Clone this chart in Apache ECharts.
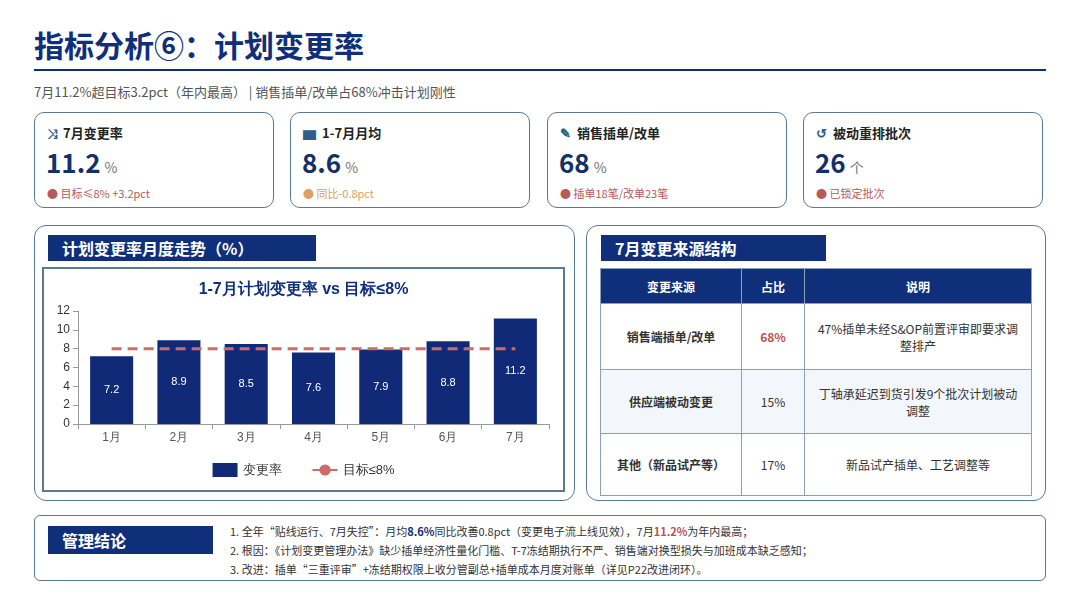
<!doctype html>
<html>
<head>
<meta charset="utf-8">
<title>计划变更率</title>
<script src="https://cdn.jsdelivr.net/npm/echarts@6/dist/echarts.min.js"></script>
<style>
body{margin:0;width:1080px;height:608px;background:#fff;font-family:"Noto Sans CJK SC","Noto Sans",sans-serif;position:relative;overflow:hidden;color:#333}
.abs{position:absolute}
.card{position:absolute;top:112px;height:96px;width:240px;border:1.5px solid #5a7a94;border-radius:10px;box-sizing:border-box}
.card .t{position:absolute;left:12px;top:10px;font-size:13px;font-weight:bold;color:#222}
.card .t i{font-style:normal;color:#2c5f8a;margin-right:6px}
.card .v{position:absolute;left:11px;top:30px;font-size:26px;font-weight:bold;color:#12306a}
.card .v span{font-size:14px;font-weight:normal;color:#777;margin-left:4px}
.card .n{position:absolute;left:12px;top:72px;font-size:11px;color:#b75a5a}
.panel{position:absolute;border:1.5px solid #5a7a94;border-radius:12px;box-sizing:border-box}
.ptitle{position:absolute;background:#102f7a;color:#fff;font-weight:bold;font-size:16px;line-height:26px;padding-left:14px;box-sizing:border-box}
table{border-collapse:collapse;font-size:12px;text-align:center}
td,th{border:1px solid #8aa0b8}
th{background:#102f7a;color:#fff;height:32px}
</style>
</head>
<body>
<div class="abs" style="left:34px;top:22px;font-size:30px;font-weight:bold;color:#102f7a">指标分析⑥：计划变更率</div>
<div class="abs" style="left:34px;top:69px;width:1012px;height:2px;background:#102f7a"></div>
<div class="abs" style="left:34px;top:82px;font-size:13px;color:#555">7月11.2%超目标3.2pct（年内最高） | 销售插单/改单占68%冲击计划刚性</div>

<div class="card" style="left:34px"><div class="t"><i>⤨</i>7月变更率</div><div class="v">11.2<span>%</span></div><div class="n">● 目标≤8% +3.2pct</div></div>
<div class="card" style="left:290px"><div class="t"><i>▆</i>1-7月月均</div><div class="v">8.6<span>%</span></div><div class="n" style="color:#e0a060">● 同比-0.8pct</div></div>
<div class="card" style="left:547px"><div class="t"><i>✎</i>销售插单/改单</div><div class="v">68<span>%</span></div><div class="n">● 插单18笔/改单23笔</div></div>
<div class="card" style="left:803px"><div class="t"><i>↺</i>被动重排批次</div><div class="v">26<span>个</span></div><div class="n">● 已锁定批次</div></div>

<div class="panel" style="left:34px;top:225px;width:541px;height:276px"></div>
<div class="ptitle" style="left:48px;top:235px;width:268px">计划变更率月度走势（%）</div>
<div class="abs" style="left:42px;top:267px;width:523px;height:225px;border:2px solid #5a7a94;box-sizing:border-box"></div>
<div id="tb" class="abs" style="left:44px;top:269px;width:519px;height:221px"></div>

<div class="panel" style="left:586px;top:225px;width:460px;height:276px"></div>
<div class="ptitle" style="left:601px;top:235px;width:225px">7月变更来源结构</div>
<table class="abs" style="left:600px;top:268px;width:432px">
<tr><th style="width:138px">变更来源</th><th style="width:60px">占比</th><th>说明</th></tr>
<tr style="height:66px"><td style="font-weight:bold">销售端插单/改单</td><td style="color:#c0504d;font-weight:bold">68%</td><td style="padding:0 10px">47%插单未经S&amp;OP前置评审即要求调整排产</td></tr>
<tr style="height:64px;background:#f3f6fa"><td style="font-weight:bold">供应端被动变更</td><td>15%</td><td style="padding:0 10px">丁轴承延迟到货引发9个批次计划被动调整</td></tr>
<tr style="height:62px"><td style="font-weight:bold">其他（新品试产等）</td><td>17%</td><td>新品试产插单、工艺调整等</td></tr>
</table>

<div class="panel" style="left:34px;top:515px;width:1012px;height:66px;border-radius:6px"></div>
<div class="ptitle" style="left:48px;top:526px;width:165px;font-size:16px;line-height:28px">管理结论</div>
<div class="abs" style="left:230px;top:522px;font-size:11px;line-height:19px;color:#333">
1. 全年“贴线运行、7月失控”：月均<b style="color:#102f7a">8.6%</b>同比改善0.8pct（变更电子流上线见效），7月<b style="color:#c0504d">11.2%</b>为年内最高；<br>
2. 根因：《计划变更管理办法》缺少插单经济性量化门槛、T-7冻结期执行不严、销售端对换型损失与加班成本缺乏感知；<br>
3. 改进：插单“三重评审”+冻结期权限上收分管副总+插单成本月度对账单（详见P22改进闭环）。</div>

<script>
var months = ['1月', '2月', '3月', '4月', '5月', '6月', '7月'];
var rates = [7.2, 8.9, 8.5, 7.6, 7.9, 8.8, 11.2];
var targets = [8, 8, 8, 8, 8, 8, 8];
var chart = echarts.init(document.getElementById('tb'));
chart.setOption({
    animation: false,
    title: {text: '1-7月计划变更率 vs 目标≤8%', left: 'center', top: 8,
        textStyle: {fontSize: 16, fontWeight: 'bold', color: '#102f7a'}},
    grid: {left: 34, right: 14, top: 42, bottom: 66},
    legend: {bottom: 8, itemGap: 30, textStyle: {fontSize: 13, color: '#333'},
        data: [{name: '变更率', icon: 'rect'}, {name: '目标≤8%'}]},
    xAxis: {type: 'category', data: months,
        axisLine: {lineStyle: {color: '#999'}}, axisTick: {show: true},
        axisLabel: {color: '#555', fontSize: 12}},
    yAxis: {type: 'value', min: 0, max: 12, interval: 2,
        axisLine: {show: true, lineStyle: {color: '#999'}}, axisTick: {show: true},
        splitLine: {show: false}, axisLabel: {color: '#333', fontSize: 12}},
    series: [{
        name: '变更率', type: 'bar', data: rates, barWidth: '64%',
        itemStyle: {color: '#102a78'},
        label: {show: true, position: 'inside', color: '#fff', fontSize: 11}
    }, {
        name: '目标≤8%', type: 'line', data: targets, symbol: 'none',
        lineStyle: {color: '#d06a6a', width: 3, type: [10, 6]},
        itemStyle: {color: '#d06a6a'},
        label: {show: true, position: 'top', distance: 8, color: '#333', fontSize: 11,
            formatter: function (p) { return p.dataIndex === 0 ? p.value : ''; }}
    }]
});
</script>
</body>
</html>
